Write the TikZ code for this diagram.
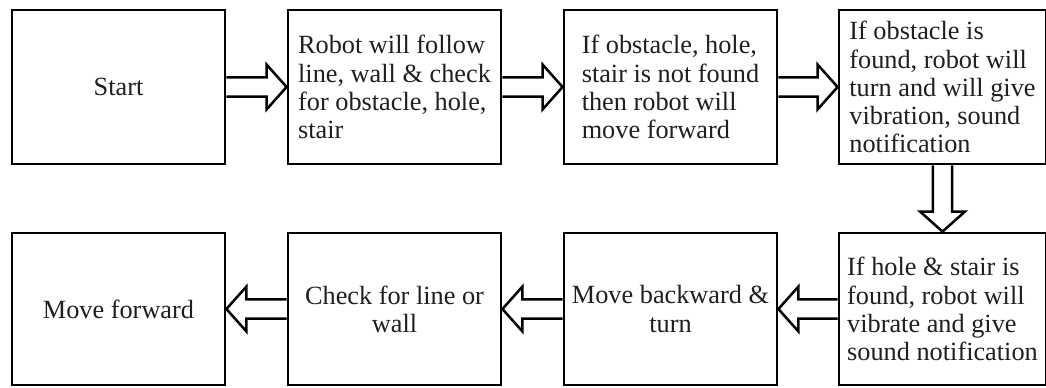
\documentclass[tikz,border=0pt]{standalone}
\usepackage{fontspec}
\setmainfont{Liberation Serif}
\usetikzlibrary{calc}

\tikzstyle{box} = [rectangle, minimum width=5.325cm, minimum height=3.85cm, align=left, draw=black, line width=2pt, font=\fontsize{18.7}{20}\selectfont, text=black!88]
\tikzstyle{hollow} = [draw=black, line width=1.8pt, line join=miter]

\begin{document}
\begin{tikzpicture}[node distance=6.9cm]
    \useasboundingbox (-2.9625,2.175) rectangle (23.1875,-7.525);

    \node (start) [box, align=center] {Start};
    \node (follow) [box, right of=start] {Robot will follow\\line, wall \& check\\for obstacle, hole,\\stair};
    \node (notfound) [box, right of=follow] {If obstacle, hole,\\stair is not found\\then robot will\\move forward};
    \node (obstacle) [box, right of=notfound, xshift=-0.1cm, minimum width=5.175cm] {If obstacle is\\found, robot will\\turn and will give\\vibration, sound\\notification};
    \node (hole) [box, below of=obstacle, yshift=1.35cm, minimum width=5.175cm, minimum height=3.8cm] {If hole \& stair is\\found, robot will\\vibrate and give\\sound notification};
    \node (backward) [box, left of=hole, xshift=0.1cm, minimum height=3.8cm, align=center] {Move backward \&\\turn};
    \node (check) [box, left of=backward, minimum height=3.8cm, align=center] {Check for line or\\wall};
    \node (forward) [box, left of=check, minimum height=3.8cm, align=center] {Move forward};

    % hollow block arrows between the boxes
    \foreach \a/\b in {start.east/follow.west, follow.east/notfound.west, notfound.east/obstacle.west, obstacle.south/hole.north, hole.west/backward.east, backward.west/check.east, check.west/forward.east} {
        \coordinate (base) at ($(\b)!0.5cm!(\a)$);
        \draw [hollow] ($(\a)!0.24cm!90:(\b)$) -- ($(base)!0.24cm!-90:(\a)$) -- ($(base)!0.56cm!-90:(\a)$) -- (\b) -- ($(base)!0.56cm!90:(\a)$) -- ($(base)!0.24cm!90:(\a)$) -- ($(\a)!0.24cm!-90:(\b)$);
    }
\end{tikzpicture}
\end{document}
